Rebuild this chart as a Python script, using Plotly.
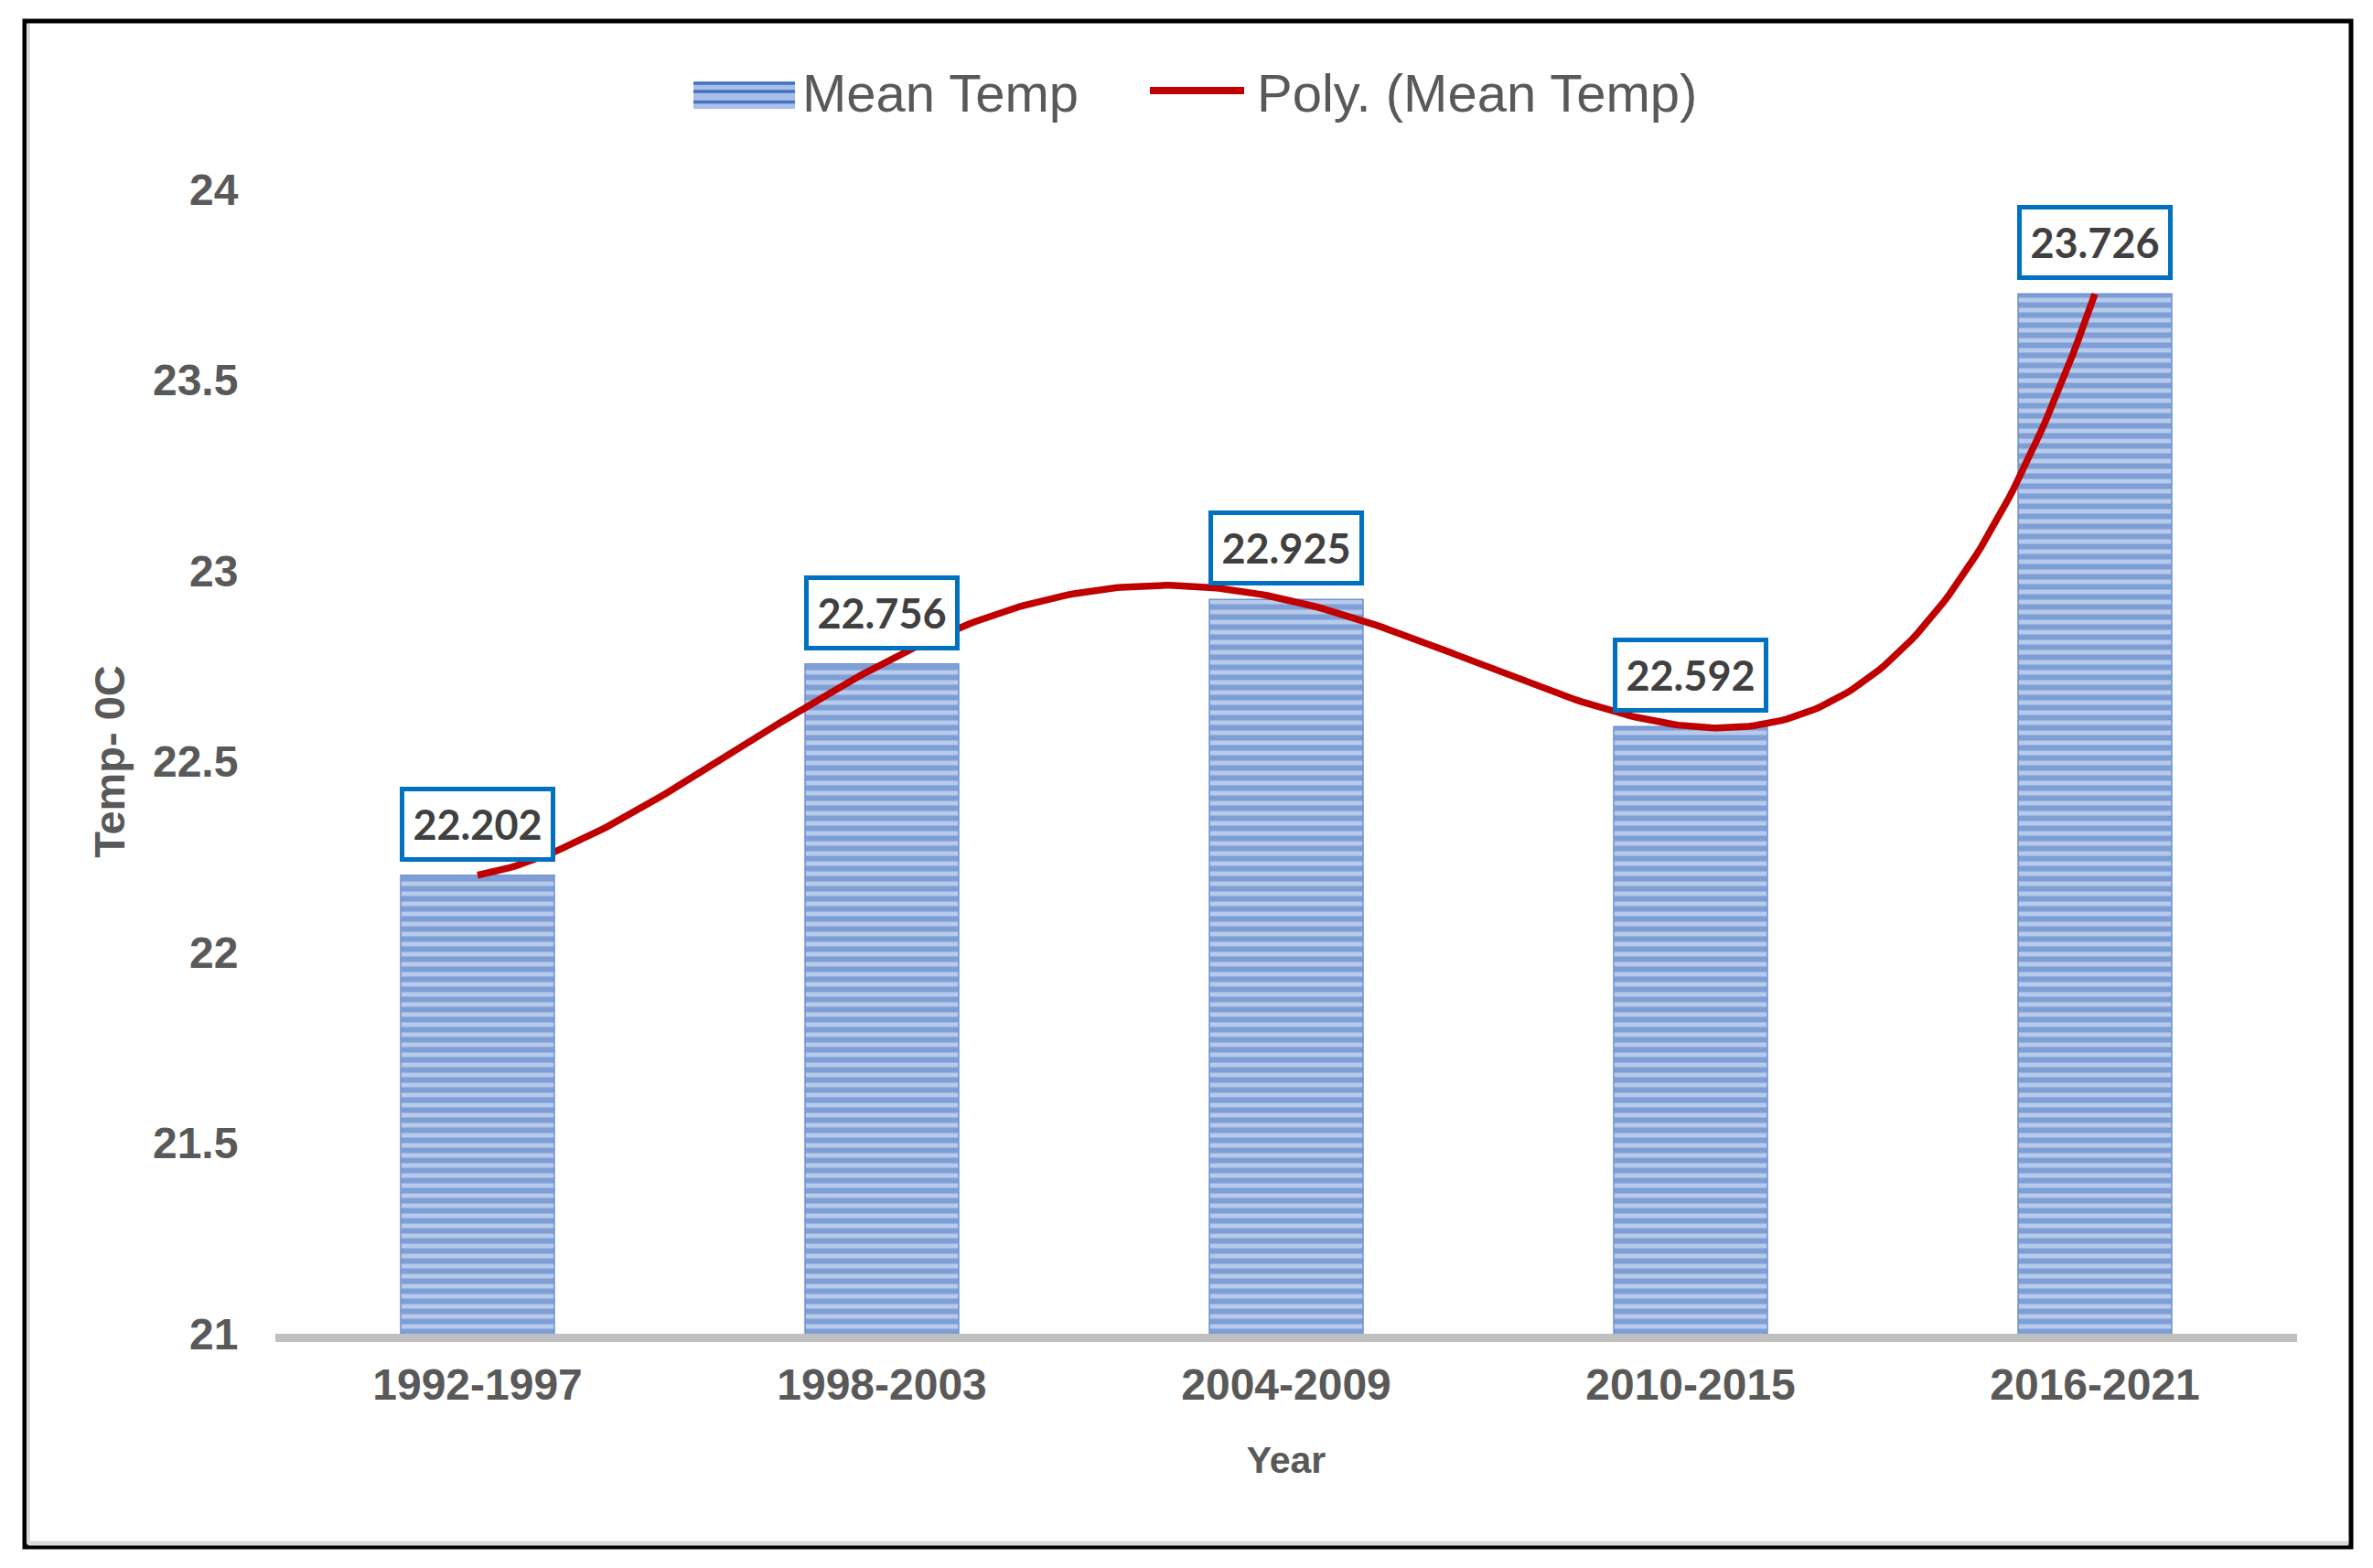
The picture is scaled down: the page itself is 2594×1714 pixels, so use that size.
import numpy as np
import plotly.graph_objects as go

categories = ["1992-1997", "1998-2003", "2004-2009", "2010-2015", "2016-2021"]
mean_temp = [22.202, 22.756, 22.925, 22.592, 23.726]
label_text = ["22.202", "22.756", "22.925", "22.592", "23.726"]
y_ticks = [21, 21.5, 22, 22.5, 23, 23.5, 24]
legend_names = ["Mean Temp", "Poly. (Mean Temp)"]

W, H = 2594, 1714
S = 8  # page body margin offset
L, R, T, B = 293, 91, 199, 264
PW, PH = W - L - R, H - T - B

def px(xs):
    return (xs - S - L) / PW

def py(ys):
    return (H - B - (ys - S)) / PH

xpos = list(range(len(categories)))

# 4th-order polynomial trendline (Excel "Poly." trendline) fitted to the bar values
coef = np.polyfit(xpos, mean_temp, 4)
xt = np.linspace(xpos[0], xpos[-1], 300)
yt = np.polyval(coef, xt)

fig = go.Figure()
fig.add_trace(go.Bar(
    x=xpos, y=mean_temp, name=legend_names[0], width=0.38,
    marker=dict(
        color="#B4C7E7",
        line=dict(color="#6E8FD2", width=1.5),
        pattern=dict(shape="-", fgcolor="#4472C4", bgcolor="#B8CAE9", size=11, solidity=0.55),
    ),
))
fig.add_trace(go.Scatter(
    x=xt, y=yt, mode="lines", name=legend_names[1],
    line=dict(color="#C00000", width=7.5),
))

for xi, v, t in zip(xpos, mean_temp, label_text):
    fig.add_annotation(
        x=xi, y=v, xref="x", yref="y", text="<b>" + t + "</b>", showarrow=False,
        yanchor="bottom", yshift=15, width=156, height=68, borderpad=2,
        bordercolor="#0070C0", borderwidth=5, bgcolor="white",
        font=dict(family="Lato, Open Sans, sans-serif", size=45, color="#404040"),
    )

# manual legend (Excel-sized swatches)
fig.add_shape(type="rect", xref="paper", yref="paper",
              x0=px(758), x1=px(869), y0=py(119), y1=py(89),
              fillcolor="#A9BFE7", line=dict(width=0))
for ys in (91, 100, 111.5):
    fig.add_shape(type="line", xref="paper", yref="paper",
                  x0=px(758), x1=px(869), y0=py(ys), y1=py(ys),
                  line=dict(color="#4472C4", width=3.5))
fig.add_shape(type="line", xref="paper", yref="paper",
              x0=px(1257), x1=px(1360), y0=py(99), y1=py(99),
              line=dict(color="#C00000", width=8))
legend_font = dict(family="Liberation Sans, Arial, sans-serif", size=58, color="#595959")
fig.add_annotation(x=px(875), y=py(101), xref="paper", yref="paper", text=legend_names[0],
                   showarrow=False, xanchor="left", yanchor="middle", font=legend_font)
fig.add_annotation(x=px(1372), y=py(101), xref="paper", yref="paper", text=legend_names[1],
                   showarrow=False, xanchor="left", yanchor="middle", font=legend_font)

# outer frame
fig.add_shape(type="rect", xref="paper", yref="paper",
              x0=px(27), x1=px(2570), y0=py(1691), y1=py(23),
              line=dict(color="black", width=5), layer="above")
fig.add_shape(type="line", xref="paper", yref="paper",
              x0=px(31), x1=px(31), y0=py(1687), y1=py(26),
              line=dict(color="#D9D9D9", width=4))
fig.add_shape(type="line", xref="paper", yref="paper",
              x0=px(31), x1=px(2567), y0=py(1687), y1=py(1687),
              line=dict(color="#D9D9D9", width=5))

fig.update_layout(
    width=W, height=H,
    margin=dict(l=L, r=R, t=T, b=B),
    paper_bgcolor="white", plot_bgcolor="white",
    showlegend=False,
    xaxis=dict(
        range=[-0.5, 4.5], tickmode="array", tickvals=xpos, ticktext=categories,
        showgrid=False, zeroline=False,
        showline=True, linecolor="#BFBFBF", linewidth=9,
        ticks="outside", ticklen=5, tickcolor="rgba(0,0,0,0)",
        tickfont=dict(family="Liberation Sans, Arial, sans-serif", size=48, color="#595959", weight="bold"),
        title=dict(text="<b>Year</b>", standoff=46,
                   font=dict(family="Liberation Sans, Arial, sans-serif", size=41, color="#595959")),
    ),
    yaxis=dict(
        range=[21, 24], tickmode="array", tickvals=y_ticks,
        ticktext=[("%g" % v) for v in y_ticks],
        showgrid=False, zeroline=False, showline=False,
        ticks="outside", ticklen=30, tickcolor="rgba(0,0,0,0)",
        tickfont=dict(family="Liberation Sans, Arial, sans-serif", size=48, color="#595959", weight="bold"),
        title=dict(text="<b>Temp- 0C</b>", standoff=15,
                   font=dict(family="Liberation Sans, Arial, sans-serif", size=47, color="#595959")),
    ),
)

fig.write_html("out.html")
